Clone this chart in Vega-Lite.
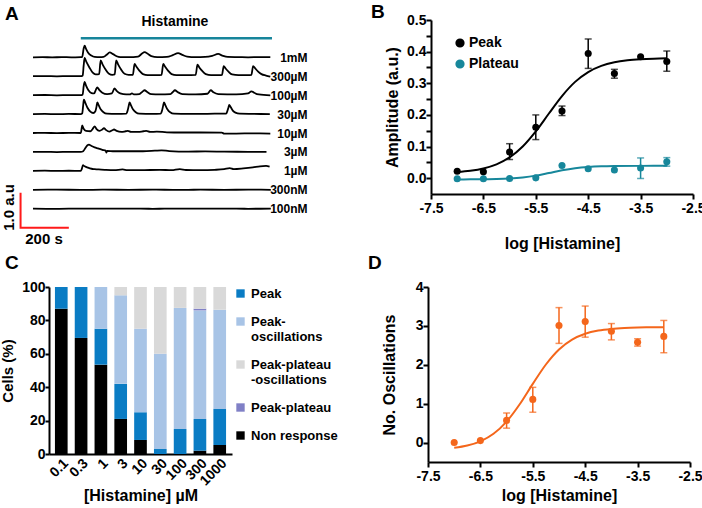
{
  "$schema": "https://vega.github.io/schema/vega-lite/v6.json",
  "padding": {"left": 0, "top": 3, "right": 0, "bottom": 0},
  "config": {
    "font": "Liberation Sans",
    "view": {"stroke": null},
    "axis": {"labelFont": "Liberation Sans", "titleFont": "Liberation Sans", "labelFontWeight": "bold", "labelFontSize": 14, "labelColor": "black", "titleFontWeight": "bold", "titleFontSize": 16, "titleColor": "black", "domainColor": "black", "domainWidth": 2, "tickColor": "black", "tickWidth": 2, "tickSize": 5, "grid": false, "labelFlush": false, "labelOverlap": false, "labelPadding": 2},
    "legend": {"labelFont": "Liberation Sans", "labelFontWeight": "bold", "labelFontSize": 14, "labelColor": "black", "labelLimit": 300},
    "title": {"font": "Liberation Sans", "fontSize": 19, "fontWeight": "bold", "anchor": "start", "frame": "group", "color": "black", "offset": 0}
  },
  "resolve": {"scale": {"color": "independent"}, "legend": {"color": "independent"}},
  "datasets": {
    "traces": [
      {"c":"1mM","t":0,"v":0},{"c":"1mM","t":40,"v":0.005},{"c":"1mM","t":80,"v":-0.003},{"c":"1mM","t":120,"v":0.004},{"c":"1mM","t":160,"v":0},{"c":"1mM","t":200,"v":0.002},{"c":"1mM","t":206,"v":0.01},{"c":"1mM","t":212,"v":0.25},{"c":"1mM","t":216,"v":0.333},{"c":"1mM","t":222,"v":0.24},{"c":"1mM","t":230,"v":0.14},{"c":"1mM","t":244,"v":0.05},{"c":"1mM","t":258,"v":0.01},{"c":"1mM","t":280,"v":0.005},{"c":"1mM","t":295,"v":0.01},{"c":"1mM","t":308,"v":0.07},{"c":"1mM","t":321,"v":0.14},{"c":"1mM","t":335,"v":0.09},{"c":"1mM","t":350,"v":0.03},{"c":"1mM","t":365,"v":0.005},{"c":"1mM","t":400,"v":0.005},{"c":"1mM","t":440,"v":0.02},{"c":"1mM","t":455,"v":0.1},{"c":"1mM","t":467,"v":0.15},{"c":"1mM","t":480,"v":0.1},{"c":"1mM","t":495,"v":0.03},{"c":"1mM","t":520,"v":0.005},{"c":"1mM","t":560,"v":0.01},{"c":"1mM","t":585,"v":0.06},{"c":"1mM","t":607,"v":0.12},{"c":"1mM","t":625,"v":0.07},{"c":"1mM","t":645,"v":0.02},{"c":"1mM","t":680,"v":0.005},{"c":"1mM","t":720,"v":0.01},{"c":"1mM","t":750,"v":0.04},{"c":"1mM","t":775,"v":0.095},{"c":"1mM","t":792,"v":0.05},{"c":"1mM","t":815,"v":0.01},{"c":"1mM","t":860,"v":0.005},{"c":"1mM","t":900,"v":0},{"c":"1mM","t":950,"v":0.004},{"c":"1mM","t":993,"v":0.002},
      {"c":"300µM","t":0,"v":0},{"c":"300µM","t":50,"v":0.005},{"c":"300µM","t":100,"v":-0.003},{"c":"300µM","t":150,"v":0.004},{"c":"300µM","t":200,"v":0},{"c":"300µM","t":208,"v":0.02},{"c":"300µM","t":212,"v":0.3},{"c":"300µM","t":216,"v":0.52},{"c":"300µM","t":224,"v":0.4},{"c":"300µM","t":236,"v":0.25},{"c":"300µM","t":250,"v":0.1},{"c":"300µM","t":262,"v":0.05},{"c":"300µM","t":277,"v":0.06},{"c":"300µM","t":283,"v":0.45},{"c":"300µM","t":291,"v":0.34},{"c":"300µM","t":303,"v":0.2},{"c":"300µM","t":318,"v":0.07},{"c":"300µM","t":332,"v":0.04},{"c":"300µM","t":342,"v":0.05},{"c":"300µM","t":348,"v":0.45},{"c":"300µM","t":356,"v":0.34},{"c":"300µM","t":368,"v":0.2},{"c":"300µM","t":383,"v":0.07},{"c":"300µM","t":400,"v":0.04},{"c":"300µM","t":418,"v":0.04},{"c":"300µM","t":425,"v":0.35},{"c":"300µM","t":433,"v":0.27},{"c":"300µM","t":445,"v":0.16},{"c":"300µM","t":460,"v":0.06},{"c":"300µM","t":480,"v":0.03},{"c":"300µM","t":520,"v":0.03},{"c":"300µM","t":538,"v":0.04},{"c":"300µM","t":545,"v":0.35},{"c":"300µM","t":553,"v":0.27},{"c":"300µM","t":565,"v":0.16},{"c":"300µM","t":580,"v":0.06},{"c":"300µM","t":600,"v":0.03},{"c":"300µM","t":640,"v":0.03},{"c":"300µM","t":681,"v":0.04},{"c":"300µM","t":688,"v":0.33},{"c":"300µM","t":696,"v":0.25},{"c":"300µM","t":708,"v":0.15},{"c":"300µM","t":723,"v":0.06},{"c":"300µM","t":745,"v":0.03},{"c":"300µM","t":780,"v":0.03},{"c":"300µM","t":791,"v":0.04},{"c":"300µM","t":798,"v":0.29},{"c":"300µM","t":806,"v":0.22},{"c":"300µM","t":818,"v":0.13},{"c":"300µM","t":833,"v":0.05},{"c":"300µM","t":860,"v":0.03},{"c":"300µM","t":900,"v":0.03},{"c":"300µM","t":914,"v":0.04},{"c":"300µM","t":921,"v":0.29},{"c":"300µM","t":929,"v":0.23},{"c":"300µM","t":941,"v":0.14},{"c":"300µM","t":956,"v":0.06},{"c":"300µM","t":975,"v":0.02},{"c":"300µM","t":993,"v":-0.01},
      {"c":"100µM","t":0,"v":0},{"c":"100µM","t":50,"v":0.004},{"c":"100µM","t":100,"v":-0.004},{"c":"100µM","t":150,"v":0.003},{"c":"100µM","t":200,"v":0},{"c":"100µM","t":208,"v":0.02},{"c":"100µM","t":212,"v":0.25},{"c":"100µM","t":216,"v":0.38},{"c":"100µM","t":222,"v":0.27},{"c":"100µM","t":232,"v":0.14},{"c":"100µM","t":245,"v":0.06},{"c":"100µM","t":256,"v":0.05},{"c":"100µM","t":263,"v":0.15},{"c":"100µM","t":269,"v":0.22},{"c":"100µM","t":277,"v":0.15},{"c":"100µM","t":290,"v":0.07},{"c":"100µM","t":310,"v":0.03},{"c":"100µM","t":330,"v":0.05},{"c":"100µM","t":341,"v":0.19},{"c":"100µM","t":350,"v":0.12},{"c":"100µM","t":365,"v":0.05},{"c":"100µM","t":390,"v":0.02},{"c":"100µM","t":405,"v":0.02},{"c":"100µM","t":414,"v":0.05},{"c":"100µM","t":422,"v":0.02},{"c":"100µM","t":445,"v":0.03},{"c":"100µM","t":458,"v":0.1},{"c":"100µM","t":467,"v":0.14},{"c":"100µM","t":478,"v":0.09},{"c":"100µM","t":495,"v":0.03},{"c":"100µM","t":530,"v":0.02},{"c":"100µM","t":575,"v":0.03},{"c":"100µM","t":585,"v":0.09},{"c":"100µM","t":594,"v":0.14},{"c":"100µM","t":605,"v":0.09},{"c":"100µM","t":625,"v":0.03},{"c":"100µM","t":680,"v":0.02},{"c":"100µM","t":730,"v":0.04},{"c":"100µM","t":744,"v":0.14},{"c":"100µM","t":755,"v":0.08},{"c":"100µM","t":775,"v":0.03},{"c":"100µM","t":850,"v":0.02},{"c":"100µM","t":900,"v":0.05},{"c":"100µM","t":914,"v":0.11},{"c":"100µM","t":925,"v":0.07},{"c":"100µM","t":945,"v":0.02},{"c":"100µM","t":993,"v":-0.005},
      {"c":"30µM","t":0,"v":0},{"c":"30µM","t":50,"v":0.004},{"c":"30µM","t":100,"v":-0.003},{"c":"30µM","t":150,"v":0.004},{"c":"30µM","t":200,"v":0},{"c":"30µM","t":206,"v":0.02},{"c":"30µM","t":210,"v":0.25},{"c":"30µM","t":213,"v":0.41},{"c":"30µM","t":219,"v":0.32},{"c":"30µM","t":228,"v":0.18},{"c":"30µM","t":240,"v":0.07},{"c":"30µM","t":252,"v":0.03},{"c":"30µM","t":261,"v":0.08},{"c":"30µM","t":266,"v":0.22},{"c":"30µM","t":269,"v":0.33},{"c":"30µM","t":275,"v":0.25},{"c":"30µM","t":284,"v":0.13},{"c":"30µM","t":295,"v":0.05},{"c":"30µM","t":310,"v":0.01},{"c":"30µM","t":350,"v":0.005},{"c":"30µM","t":390,"v":0.01},{"c":"30µM","t":396,"v":0.1},{"c":"30µM","t":400,"v":0.22},{"c":"30µM","t":404,"v":0.33},{"c":"30µM","t":410,"v":0.25},{"c":"30µM","t":419,"v":0.13},{"c":"30µM","t":430,"v":0.05},{"c":"30µM","t":445,"v":0.01},{"c":"30µM","t":500,"v":0.005},{"c":"30µM","t":534,"v":0.01},{"c":"30µM","t":540,"v":0.1},{"c":"30µM","t":544,"v":0.22},{"c":"30µM","t":548,"v":0.33},{"c":"30µM","t":554,"v":0.25},{"c":"30µM","t":563,"v":0.13},{"c":"30µM","t":574,"v":0.05},{"c":"30µM","t":590,"v":0.01},{"c":"30µM","t":650,"v":0.005},{"c":"30µM","t":700,"v":0.005},{"c":"30µM","t":760,"v":0.01},{"c":"30µM","t":808,"v":0.01},{"c":"30µM","t":814,"v":0.1},{"c":"30µM","t":818,"v":0.19},{"c":"30µM","t":821,"v":0.26},{"c":"30µM","t":827,"v":0.2},{"c":"30µM","t":836,"v":0.1},{"c":"30µM","t":847,"v":0.04},{"c":"30µM","t":865,"v":0.01},{"c":"30µM","t":920,"v":0.005},{"c":"30µM","t":991,"v":0},
      {"c":"10µM","t":0,"v":0},{"c":"10µM","t":50,"v":0.003},{"c":"10µM","t":100,"v":-0.004},{"c":"10µM","t":150,"v":0.003},{"c":"10µM","t":200,"v":0},{"c":"10µM","t":203,"v":0.1},{"c":"10µM","t":206,"v":0.22},{"c":"10µM","t":212,"v":0.12},{"c":"10µM","t":222,"v":0.06},{"c":"10µM","t":240,"v":0.05},{"c":"10µM","t":250,"v":0.12},{"c":"10µM","t":258,"v":0.19},{"c":"10µM","t":265,"v":0.12},{"c":"10µM","t":278,"v":0.06},{"c":"10µM","t":290,"v":0.1},{"c":"10µM","t":297,"v":0.14},{"c":"10µM","t":305,"v":0.09},{"c":"10µM","t":320,"v":0.04},{"c":"10µM","t":332,"v":0.08},{"c":"10µM","t":339,"v":0.1},{"c":"10µM","t":350,"v":0.06},{"c":"10µM","t":370,"v":0.03},{"c":"10µM","t":388,"v":0.05},{"c":"10µM","t":397,"v":0.06},{"c":"10µM","t":410,"v":0.03},{"c":"10µM","t":440,"v":0.03},{"c":"10µM","t":462,"v":0.05},{"c":"10µM","t":474,"v":0.06},{"c":"10µM","t":490,"v":0.03},{"c":"10µM","t":518,"v":0.04},{"c":"10µM","t":560,"v":0.02},{"c":"10µM","t":620,"v":0.015},{"c":"10µM","t":700,"v":0.015},{"c":"10µM","t":790,"v":0.01},{"c":"10µM","t":800,"v":-0.015},{"c":"10µM","t":850,"v":-0.015},{"c":"10µM","t":920,"v":-0.012},{"c":"10µM","t":993,"v":-0.015},
      {"c":"3µM","t":0,"v":0},{"c":"3µM","t":50,"v":0.004},{"c":"3µM","t":100,"v":-0.003},{"c":"3µM","t":150,"v":0.003},{"c":"3µM","t":200,"v":0},{"c":"3µM","t":210,"v":0.02},{"c":"3µM","t":220,"v":0.12},{"c":"3µM","t":228,"v":0.19},{"c":"3µM","t":234,"v":0.21},{"c":"3µM","t":245,"v":0.17},{"c":"3µM","t":258,"v":0.13},{"c":"3µM","t":272,"v":0.1},{"c":"3µM","t":290,"v":0.06},{"c":"3µM","t":304,"v":0.04},{"c":"3µM","t":307,"v":-0.02},{"c":"3µM","t":310,"v":0.03},{"c":"3µM","t":340,"v":0.02},{"c":"3µM","t":400,"v":0.02},{"c":"3µM","t":460,"v":0.02},{"c":"3µM","t":510,"v":0.035},{"c":"3µM","t":538,"v":0.045},{"c":"3µM","t":570,"v":0.025},{"c":"3µM","t":650,"v":0.01},{"c":"3µM","t":720,"v":0.015},{"c":"3µM","t":800,"v":0.008},{"c":"3µM","t":900,"v":0.003},{"c":"3µM","t":977,"v":0},
      {"c":"1µM","t":0,"v":0},{"c":"1µM","t":50,"v":0.004},{"c":"1µM","t":100,"v":-0.003},{"c":"1µM","t":150,"v":0.003},{"c":"1µM","t":200,"v":0},{"c":"1µM","t":204,"v":0.05},{"c":"1µM","t":209,"v":0.16},{"c":"1µM","t":216,"v":0.13},{"c":"1µM","t":230,"v":0.09},{"c":"1µM","t":245,"v":0.06},{"c":"1µM","t":258,"v":0.05},{"c":"1µM","t":275,"v":0.04},{"c":"1µM","t":300,"v":0.03},{"c":"1µM","t":340,"v":0.02},{"c":"1µM","t":375,"v":0.04},{"c":"1µM","t":395,"v":0.02},{"c":"1µM","t":450,"v":0.02},{"c":"1µM","t":530,"v":0.03},{"c":"1µM","t":580,"v":0.02},{"c":"1µM","t":614,"v":0.05},{"c":"1µM","t":640,"v":0.025},{"c":"1µM","t":700,"v":0.02},{"c":"1µM","t":760,"v":0.03},{"c":"1µM","t":800,"v":0.05},{"c":"1µM","t":823,"v":0.08},{"c":"1µM","t":840,"v":0.05},{"c":"1µM","t":880,"v":0.07},{"c":"1µM","t":920,"v":0.1},{"c":"1µM","t":950,"v":0.13},{"c":"1µM","t":975,"v":0.14},{"c":"1µM","t":990,"v":0.12},
      {"c":"300nM","t":0,"v":0},{"c":"300nM","t":100,"v":0.004},{"c":"300nM","t":200,"v":-0.003},{"c":"300nM","t":300,"v":0.003},{"c":"300nM","t":400,"v":0},{"c":"300nM","t":500,"v":0.003},{"c":"300nM","t":600,"v":-0.002},{"c":"300nM","t":700,"v":0.002},{"c":"300nM","t":800,"v":0},{"c":"300nM","t":900,"v":0.003},{"c":"300nM","t":995,"v":0},
      {"c":"100nM","t":0,"v":0},{"c":"100nM","t":100,"v":-0.003},{"c":"100nM","t":200,"v":0.003},{"c":"100nM","t":300,"v":0},{"c":"100nM","t":400,"v":0.003},{"c":"100nM","t":500,"v":-0.002},{"c":"100nM","t":600,"v":0.002},{"c":"100nM","t":700,"v":0},{"c":"100nM","t":800,"v":0.003},{"c":"100nM","t":900,"v":-0.002},{"c":"100nM","t":995,"v":0}
    ],
    "ptsB": [
      {"x":-7,"y":0.022,"lo":null,"hi":null,"s":"Peak"},{"x":-6.5,"y":0.020,"lo":null,"hi":null,"s":"Peak"},{"x":-6,"y":0.083,"lo":0.059,"hi":0.109,"s":"Peak"},{"x":-5.5,"y":0.161,"lo":0.122,"hi":0.200,"s":"Peak"},{"x":-5,"y":0.212,"lo":0.198,"hi":0.228,"s":"Peak"},{"x":-4.5,"y":0.394,"lo":0.347,"hi":0.44,"s":"Peak"},{"x":-4,"y":0.331,"lo":0.316,"hi":0.344,"s":"Peak"},{"x":-3.5,"y":0.384,"lo":null,"hi":null,"s":"Peak"},{"x":-3,"y":0.369,"lo":0.338,"hi":0.402,"s":"Peak"},
      {"x":-7,"y":-0.002,"lo":null,"hi":null,"s":"Plateau"},{"x":-6.5,"y":-0.002,"lo":null,"hi":null,"s":"Plateau"},{"x":-6,"y":-0.001,"lo":null,"hi":null,"s":"Plateau"},{"x":-5.5,"y":0.001,"lo":null,"hi":null,"s":"Plateau"},{"x":-5,"y":0.040,"lo":null,"hi":null,"s":"Plateau"},{"x":-4.5,"y":0.030,"lo":null,"hi":null,"s":"Plateau"},{"x":-4,"y":0.026,"lo":null,"hi":null,"s":"Plateau"},{"x":-3.5,"y":0.032,"lo":-0.001,"hi":0.064,"s":"Plateau"},{"x":-3,"y":0.052,"lo":0.038,"hi":0.065,"s":"Plateau"}
    ],
    "curveB": [
      {"x":-7,"y":0.0196,"s":"Peak"},{"x":-6.75,"y":0.0236,"s":"Peak"},{"x":-6.5,"y":0.0309,"s":"Peak"},{"x":-6.25,"y":0.0438,"s":"Peak"},{"x":-6,"y":0.0657,"s":"Peak"},{"x":-5.75,"y":0.1001,"s":"Peak"},{"x":-5.5,"y":0.1479,"s":"Peak"},{"x":-5.25,"y":0.2044,"s":"Peak"},{"x":-5,"y":0.2597,"s":"Peak"},{"x":-4.75,"y":0.3044,"s":"Peak"},{"x":-4.5,"y":0.3355,"s":"Peak"},{"x":-4.25,"y":0.355,"s":"Peak"},{"x":-4,"y":0.3663,"s":"Peak"},{"x":-3.75,"y":0.3726,"s":"Peak"},{"x":-3.5,"y":0.376,"s":"Peak"},{"x":-3.25,"y":0.3779,"s":"Peak"},{"x":-3,"y":0.3789,"s":"Peak"},
      {"x":-7,"y":-0.0039,"s":"Plateau"},{"x":-6.75,"y":-0.0037,"s":"Plateau"},{"x":-6.5,"y":-0.0034,"s":"Plateau"},{"x":-6.25,"y":-0.0027,"s":"Plateau"},{"x":-6,"y":-0.001,"s":"Plateau"},{"x":-5.75,"y":0.0023,"s":"Plateau"},{"x":-5.5,"y":0.0081,"s":"Plateau"},{"x":-5.25,"y":0.0164,"s":"Plateau"},{"x":-5,"y":0.0251,"s":"Plateau"},{"x":-4.75,"y":0.0316,"s":"Plateau"},{"x":-4.5,"y":0.0354,"s":"Plateau"},{"x":-4.25,"y":0.0374,"s":"Plateau"},{"x":-4,"y":0.0383,"s":"Plateau"},{"x":-3.5,"y":0.0389,"s":"Plateau"},{"x":-3,"y":0.039,"s":"Plateau"}
    ],
    "ptsD": [
      {"x":-7,"y":0.0,"lo":null,"hi":null},{"x":-6.5,"y":0.05,"lo":null,"hi":null},{"x":-6,"y":0.57,"lo":0.37,"hi":0.76},{"x":-5.5,"y":1.11,"lo":0.78,"hi":1.42},{"x":-5,"y":3.01,"lo":2.55,"hi":3.47},{"x":-4.5,"y":3.11,"lo":2.71,"hi":3.51},{"x":-4,"y":2.86,"lo":2.64,"hi":3.06},{"x":-3.5,"y":2.58,"lo":2.48,"hi":2.67},{"x":-3,"y":2.73,"lo":2.31,"hi":3.14}
    ],
    "curveD": [
      {"x":-7,"y":-0.136},{"x":-6.75,"y":-0.077},{"x":-6.5,"y":0.032},{"x":-6.25,"y":0.2254},{"x":-6,"y":0.539},{"x":-5.75,"y":0.984},{"x":-5.5,"y":1.509},{"x":-5.25,"y":2.007},{"x":-5,"y":2.393},{"x":-4.75,"y":2.647},{"x":-4.5,"y":2.797},{"x":-4.25,"y":2.879},{"x":-4,"y":2.923},{"x":-3.75,"y":2.946},{"x":-3.5,"y":2.958},{"x":-3.25,"y":2.964},{"x":-3,"y":2.967}
    ],
    "cells": [
      {"conc":"0.1","type":"Non response","pct":87},{"conc":"0.1","type":"Peak","pct":13},
      {"conc":"0.3","type":"Non response","pct":69.5},{"conc":"0.3","type":"Peak","pct":30.5},
      {"conc":"1","type":"Non response","pct":53.5},{"conc":"1","type":"Peak","pct":21.5},{"conc":"1","type":"Peak-oscillations","pct":25},
      {"conc":"3","type":"Non response","pct":21},{"conc":"3","type":"Peak","pct":21},{"conc":"3","type":"Peak-oscillations","pct":53},{"conc":"3","type":"Peak-plateau-oscillations","pct":5},
      {"conc":"10","type":"Non response","pct":8.4},{"conc":"10","type":"Peak","pct":16.6},{"conc":"10","type":"Peak-oscillations","pct":50},{"conc":"10","type":"Peak-plateau-oscillations","pct":25},
      {"conc":"30","type":"Peak","pct":3},{"conc":"30","type":"Peak-oscillations","pct":57},{"conc":"30","type":"Peak-plateau-oscillations","pct":40},
      {"conc":"100","type":"Peak","pct":15},{"conc":"100","type":"Peak-oscillations","pct":72.5},{"conc":"100","type":"Peak-plateau-oscillations","pct":12.5},
      {"conc":"300","type":"Non response","pct":2},{"conc":"300","type":"Peak","pct":19},{"conc":"300","type":"Peak-oscillations","pct":65},{"conc":"300","type":"Peak-plateau","pct":1},{"conc":"300","type":"Peak-plateau-oscillations","pct":13},
      {"conc":"1000","type":"Non response","pct":5.4},{"conc":"1000","type":"Peak","pct":21.6},{"conc":"1000","type":"Peak-oscillations","pct":59.4},{"conc":"1000","type":"Peak-plateau-oscillations","pct":13.6}
    ]
  },
  "spacing": 3,
  "align": "none",
  "vconcat": [
    {
      "spacing": 64,
      "resolve": {"scale": {"color": "independent"}, "legend": {"color": "independent"}},
      "hconcat": [
        {
          "width": 239,
          "height": 226,
          "title": {"text": "A", "dx": -44, "dy": 13},
          "encoding": {
            "x": {"field": "t", "type": "quantitative", "scale": {"domain": [67, 1067], "nice": false, "zero": false}, "axis": null},
            "y": {"field": "c", "type": "nominal", "scale": {"type": "point", "padding": 0.97, "domain": ["H", "1mM", "300µM", "100µM", "30µM", "10µM", "3µM", "1µM", "300nM", "100nM", "S"]}, "axis": {"orient": "right", "domain": false, "ticks": false, "labelAlign": "right", "labelPadding": 19, "labelFontSize": 12, "title": null, "labelExpr": "datum.value == 'H' || datum.value == 'S' ? '' : datum.value"}}
          },
          "layer": [
            {
              "data": {"name": "traces"},
              "mark": {"type": "line", "color": "black", "strokeWidth": 1.8, "interpolate": "monotone"},
              "encoding": {
                "yOffset": {"field": "v", "type": "quantitative", "scale": {"domain": [0, 1], "range": [0, -35], "nice": false, "zero": false}},
                "detail": {"field": "c"},
                "order": {"field": "t", "type": "quantitative"}
              }
            },
            {
              "data": {"values": [{"c": "H", "t": 200, "t2": 1000}]},
              "mark": {"type": "rule", "color": "#17859b", "strokeWidth": 2.5},
              "encoding": {"x2": {"field": "t2"}}
            },
            {
              "data": {"values": [{"c": "H", "t": 594, "label": "Histamine"}]},
              "mark": {"type": "text", "fontSize": 14, "fontWeight": "bold", "dy": -16, "baseline": "middle", "color": "black"},
              "encoding": {"text": {"field": "label"}}
            },
            {
              "data": {"values": [{"c": "S", "t": -52, "v": 1}, {"c": "S", "t": -52, "v": 0}, {"c": "S", "t": 150, "v": 0}]},
              "mark": {"type": "line", "color": "#ff1a1a", "strokeWidth": 2},
              "encoding": {
                "yOffset": {"field": "v", "type": "quantitative", "scale": {"domain": [0, 1], "range": [0, -35], "nice": false, "zero": false}},
                "order": [{"field": "t", "type": "quantitative"}, {"field": "v", "type": "quantitative", "sort": "descending"}]
              }
            },
            {
              "data": {"values": [{"c": "S", "t": -100, "v": -0.09, "label": "1.0 a.u"}]},
              "mark": {"type": "text", "fontSize": 15, "fontWeight": "bold", "angle": 270, "baseline": "middle", "align": "left", "color": "black"},
              "encoding": {
                "yOffset": {"field": "v", "type": "quantitative", "scale": {"domain": [0, 1], "range": [0, -35], "nice": false, "zero": false}},
                "text": {"field": "label"}
              }
            },
            {
              "data": {"values": [{"c": "S", "t": 46, "v": -0.33, "label": "200 s"}]},
              "mark": {"type": "text", "fontSize": 15, "fontWeight": "bold", "baseline": "middle", "align": "center", "color": "black"},
              "encoding": {
                "yOffset": {"field": "v", "type": "quantitative", "scale": {"domain": [0, 1], "range": [0, -35], "nice": false, "zero": false}},
                "text": {"field": "label"}
              }
            }
          ]
        },
        {
          "width": 262,
          "height": 174,
          "title": {"text": "B", "dx": -60, "dy": 13},
          "resolve": {"axis": {"y": "independent"}},
          "layer": [
            {
              "data": {"name": "ptsB"},
              "mark": {"type": "circle", "size": 50, "opacity": 1},
              "encoding": {
                "x": {"field": "x", "type": "quantitative", "title": "log [Histamine]", "scale": {"domain": [-7.5, -2.5], "nice": false, "zero": false}, "axis": {"values": [-7.5, -7, -6.5, -6, -5.5, -5, -4.5, -4, -3.5, -3, -2.5], "labelOverlap": false, "labelExpr": "(datum.value*2) % 2 != 0 ? '' + datum.value : ''", "titlePadding": 20}},
                "y": {"field": "y", "type": "quantitative", "title": "Amplitude (a.u.)", "scale": {"domain": [-0.05, 0.5], "nice": false, "zero": false}, "axis": {"orient": "left", "values": [0, 0.1, 0.2, 0.3, 0.4, 0.5], "format": ".1f", "labelOverlap": false, "labelPadding": 0, "titlePadding": 6}},
                "color": {"field": "s", "type": "nominal", "scale": {"domain": ["Peak", "Plateau"], "range": ["black", "#17879b"]}, "legend": {"orient": "none", "legendX": 22, "legendY": 16, "title": null, "symbolType": "circle", "symbolSize": 60, "rowPadding": 7, "labelOffset": 2}}
              }
            },
            {
              "data": {"name": "ptsB"},
              "transform": [{"filter": "isValid(datum.lo)"}],
              "mark": {"type": "errorbar", "ticks": {"size": 7}, "thickness": 1.5},
              "encoding": {
                "x": {"field": "x", "type": "quantitative", "title": "log [Histamine]"},
                "y": {"field": "lo", "type": "quantitative", "axis": null},
                "y2": {"field": "hi"},
                "color": {"field": "s", "type": "nominal", "legend": null}
              }
            },
            {
              "data": {"name": "curveB"},
              "mark": {"type": "line", "strokeWidth": 2, "interpolate": "monotone"},
              "encoding": {
                "x": {"field": "x", "type": "quantitative", "title": "log [Histamine]"},
                "y": {"field": "y", "type": "quantitative", "axis": {"orient": "left", "values": [0.05, 0.15, 0.25, 0.35, 0.45], "labels": false, "domain": false, "title": null}},
                "color": {"field": "s", "type": "nominal", "legend": null}
              }
            }
          ]
        }
      ]
    },
    {
      "spacing": 30,
      "resolve": {"scale": {"color": "independent"}, "legend": {"color": "independent"}},
      "hconcat": [
        {
          "width": 183,
          "height": 167,
          "title": {"text": "C", "dx": -44, "dy": -3},
          "data": {"name": "cells"},
          "transform": [{"calculate": "indexof(['Non response', 'Peak', 'Peak-oscillations', 'Peak-plateau', 'Peak-plateau-oscillations'], datum.type)", "as": "k"}],
          "mark": {"type": "bar"},
          "encoding": {
            "x": {"field": "conc", "type": "ordinal", "sort": ["0.1", "0.3", "1", "3", "10", "30", "100", "300", "1000"], "scale": {"paddingInner": 0.36, "paddingOuter": 0.3}, "axis": {"labelAngle": -45, "ticks": false, "title": "[Histamine] µM", "titlePadding": 0}},
            "y": {"field": "pct", "type": "quantitative", "stack": "zero", "scale": {"domain": [0, 100], "nice": false}, "axis": {"values": [0, 20, 40, 60, 80, 100], "labelOverlap": false, "labelPadding": 0, "tickSize": 4, "title": "Cells (%)", "titleFontSize": 15, "titlePadding": 6}},
            "color": {"field": "type", "type": "nominal", "scale": {"domain": ["Peak", "Peak-oscillations", "Peak-plateau-oscillations", "Peak-plateau", "Non response"], "range": ["#0a7cc4", "#a8c4e6", "#d9d9d9", "#8080c6", "#000000"]}, "legend": {"orient": "right", "offset": 2, "title": null, "symbolType": "square", "symbolSize": 70, "rowPadding": 14, "labelOffset": 4, "labelFontSize": 13, "labelExpr": "datum.label == 'Peak-oscillations' ? ['Peak-', 'oscillations'] : datum.label == 'Peak-plateau-oscillations' ? ['Peak-plateau', '-oscillations'] : datum.label"}},
            "order": {"field": "k", "type": "quantitative"}
          }
        },
        {
          "width": 262,
          "height": 175,
          "title": {"text": "D", "dx": -60, "dy": -3},
          "layer": [
            {
              "data": {"name": "curveD"},
              "mark": {"type": "line", "strokeWidth": 2, "interpolate": "monotone", "color": "#f4661b"},
              "encoding": {
                "x": {"field": "x", "type": "quantitative", "title": "log [Histamine]", "scale": {"domain": [-7.5, -2.5], "nice": false, "zero": false}, "axis": {"values": [-7.5, -7, -6.5, -6, -5.5, -5, -4.5, -4, -3.5, -3, -2.5], "labelOverlap": false, "labelExpr": "(datum.value*2) % 2 != 0 ? '' + datum.value : ''", "titlePadding": 4}},
                "y": {"field": "y", "type": "quantitative", "title": "No. Oscillations", "scale": {"domain": [-0.5, 4], "nice": false, "zero": false}, "axis": {"values": [0, 0.5, 1, 1.5, 2, 2.5, 3, 3.5, 4], "labelOverlap": false, "labelPadding": 0, "labelExpr": "datum.value % 1 == 0 ? format(datum.value, 'd') : ''", "titlePadding": 18}}
              }
            },
            {
              "data": {"name": "ptsD"},
              "transform": [{"filter": "isValid(datum.lo)"}],
              "mark": {"type": "errorbar", "ticks": {"size": 7}, "thickness": 1.5, "color": "#f4661b"},
              "encoding": {
                "x": {"field": "x", "type": "quantitative", "title": "log [Histamine]"},
                "y": {"field": "lo", "type": "quantitative", "title": "No. Oscillations"},
                "y2": {"field": "hi"}
              }
            },
            {
              "data": {"name": "ptsD"},
              "mark": {"type": "circle", "size": 50, "opacity": 1, "color": "#f4661b"},
              "encoding": {
                "x": {"field": "x", "type": "quantitative", "title": "log [Histamine]"},
                "y": {"field": "y", "type": "quantitative", "title": "No. Oscillations"}
              }
            }
          ]
        }
      ]
    }
  ]
}
